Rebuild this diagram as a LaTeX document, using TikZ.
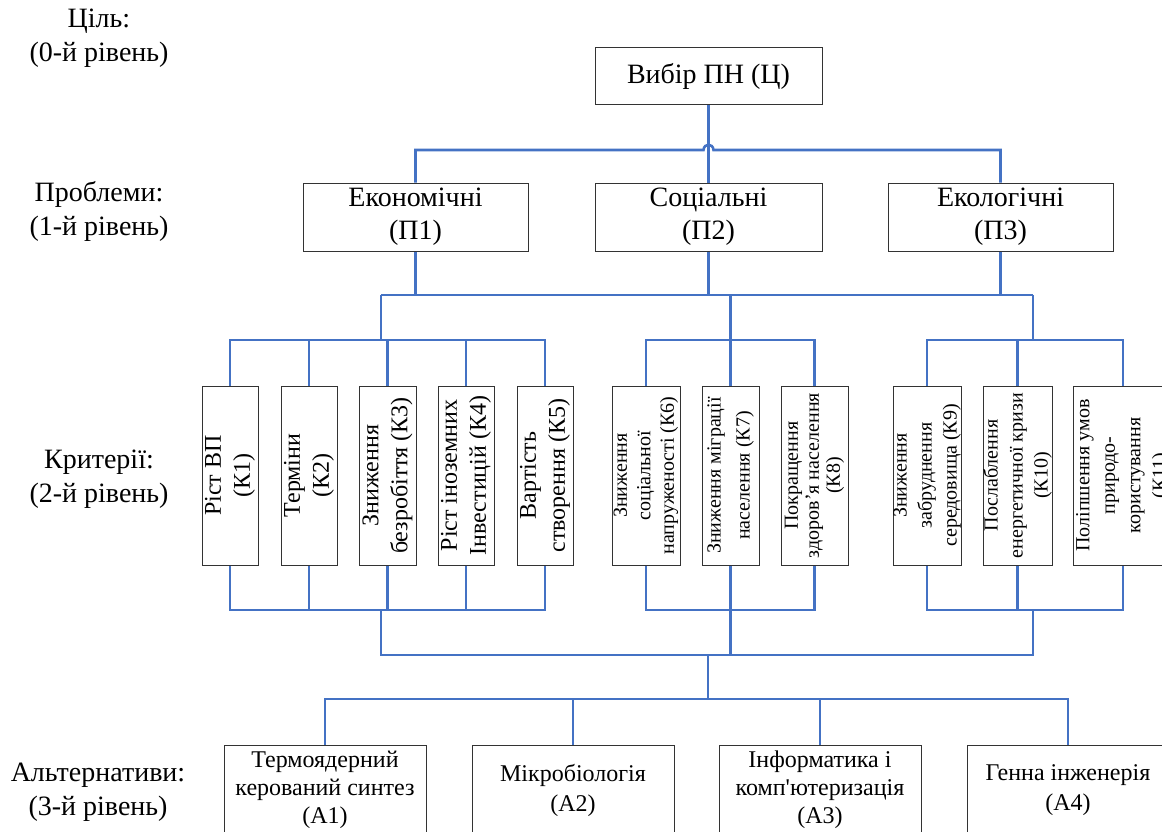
\documentclass[tikz,border=0pt]{standalone}
\usepackage{fontspec}
\setmainfont{Liberation Serif}[Ligatures=TeXOff]
\definecolor{lineblue}{HTML}{4472C4}
\tikzset{
 conn/.style={draw=lineblue, line width=2.6pt, line join=miter},
 box/.style={draw=black!80, line width=1pt, inner sep=0pt, align=center, fill=white},
 lvl/.style={align=center, font=\fontsize{28}{34}\selectfont},
 hbox/.style={box, font=\fontsize{28}{33}\selectfont},
 kbig/.style={box, rotate=90, minimum width=179pt, font=\fontsize{24}{29}\selectfont},
 ksmall/.style={box, rotate=90, minimum width=179pt},
 abox/.style={box, minimum width=202pt, minimum height=90pt},
}
\begin{document}
\begin{tikzpicture}[x=1pt,y=-1pt]
\useasboundingbox (0,0) rectangle (1162,832);

% level labels
\node[lvl] (L0) at (99,38.5) {Ціль:\\(0-й рівень)};
\node[lvl] (L1) at (99,211) {Проблеми:\\(1-й рівень)};
\node[lvl] (L2) at (99,479) {Критерії:\\(2-й рівень)};
\node[lvl] (L3) at (98,792) {Альтернативи:\\(3-й рівень)};

% goal and problems
\node[hbox, minimum width=227pt, minimum height=57pt] (C) at (708.5,76.5) {Вибір ПН (Ц)};
\node[hbox, minimum width=225pt, minimum height=68pt] (P1) at (415.5,217) {Економічні\\(П1)};
\node[hbox, minimum width=227pt, minimum height=68pt] (P2) at (708.5,217) {Соціальні\\(П2)};
\node[hbox, minimum width=225pt, minimum height=68pt] (P3) at (1000.5,217) {Екологічні\\(П3)};

% criteria
\node[kbig, minimum height=56pt] (K1) at (230,475.5) {Ріст ВП\\(К1)};
\node[kbig, minimum height=56pt] (K2) at (309,475.5) {Терміни\\(К2)};
\node[kbig, minimum height=57pt] (K3) at (387.5,475.5) {Зниження\\безробіття (К3)};
\node[kbig, minimum height=56pt] (K4) at (466,475.5) {Ріст іноземних\\Інвестицій (К4)};
\node[kbig, minimum height=56pt] (K5) at (545,475.5) {Вартість\\створення (К5)};
\node[ksmall, minimum height=68pt, font=\fontsize{20}{23.5}\selectfont] (K6) at (646,475.5) {Зниження\\соціальної\\напруженості (К6)};
\node[ksmall, minimum height=57pt, font=\fontsize{20}{29}\selectfont] (K7) at (730.5,475.5) {Зниження міграції\\населення (К7)};
\node[ksmall, minimum height=67pt, font=\fontsize{20}{21}\selectfont] (K8) at (814.5,475.5) {Покращення\\здоров’я населення\\(К8)};
\node[ksmall, minimum height=68pt, font=\fontsize{20}{25}\selectfont] (K9) at (927,475.5) {Зниження\\забруднення\\середовища (К9)};
\node[ksmall, minimum height=69pt, font=\fontsize{20}{25}\selectfont] (K10) at (1017.5,475.5) {Послаблення\\енергетичної кризи\\(К10)};
\node[ksmall, minimum height=100pt, font=\fontsize{20}{25.5}\selectfont] (K11) at (1123,475.5) {Поліпшення умов\\природо-\\користування\\(К11)};

% alternatives
\node[abox, font=\fontsize{24}{28}\selectfont] (A1) at (325,790) {Термоядерний\\керований синтез\\(А1)};
\node[abox, font=\fontsize{24}{30}\selectfont] (A2) at (573,790) {Мікробіологія\\(А2)};
\node[abox, font=\fontsize{24}{28}\selectfont] (A3) at (820,790) {Інформатика і\\комп'ютеризація\\(А3)};
\node[abox, font=\fontsize{24}{30}\selectfont] (A4) at (1068,790) {Генна інженерія\\(А4)};

% level rows
\coordinate (r150) at (0,150);
\coordinate (r295) at (0,295);
\coordinate (r340) at (0,340);
\coordinate (r610) at (0,610);
\coordinate (r655) at (0,655);
\coordinate (r699) at (0,699);
\coordinate (jE) at (381,295);
\coordinate (jX) at (1033,295);
\coordinate (bE) at (381,610);
\coordinate (bX) at (1033,610);
\coordinate (jA) at (708,655);
\coordinate (hopL) at (703.5,150);
\coordinate (hopR) at (713.5,150);

% goal -> problems
\draw[conn] (C.south) -- (P2.north);
\draw[conn] (P1.north) -- (P1.north |- r150) -- (hopL)
  .. controls (704,143) and (713,143) .. (hopR) -- (P3.north |- r150) -- (P3.north);

% problems -> criteria
\draw[conn] (P1.south) -- (P1.south |- r295);
\draw[conn] (P2.south) -- (P2.south |- r295);
\draw[conn] (P3.south) -- (P3.south |- r295);
\draw[conn] (jE) -- (jX);
\draw[conn] (jE) -- (jE |- r340);
\draw[conn] (K7.east |- r295) -- (K7.east);
\draw[conn] (jX) -- (jX |- r340);

\draw[conn] (K1.east) -- (K1.east |- r340) -- (K5.east |- r340) -- (K5.east);
\foreach \n in {K2,K3,K4} \draw[conn] (\n.east) -- (\n.east |- r340);
\draw[conn] (K6.east) -- (K6.east |- r340) -- (K8.east |- r340) -- (K8.east);
\draw[conn] (K9.east) -- (K9.east |- r340) -- (K11.east |- r340) -- (K11.east);
\draw[conn] (K10.east) -- (K10.east |- r340);

% criteria -> alternatives
\draw[conn] (K1.west) -- (K1.west |- r610) -- (K5.west |- r610) -- (K5.west);
\foreach \n in {K2,K3,K4} \draw[conn] (\n.west) -- (\n.west |- r610);
\draw[conn] (K6.west) -- (K6.west |- r610) -- (K8.west |- r610) -- (K8.west);
\draw[conn] (K9.west) -- (K9.west |- r610) -- (K11.west |- r610) -- (K11.west);
\draw[conn] (K10.west) -- (K10.west |- r610);

\draw[conn] (bE) -- (bE |- r655) -- (bX |- r655) -- (bX);
\draw[conn] (K7.west) -- (K7.west |- r655);
\draw[conn] (jA) -- (jA |- r699);
\draw[conn] (A1.north) -- (A1.north |- r699) -- (A4.north |- r699) -- (A4.north);
\draw[conn] (A2.north) -- (A2.north |- r699);
\draw[conn] (A3.north) -- (A3.north |- r699);
\end{tikzpicture}
\end{document}
